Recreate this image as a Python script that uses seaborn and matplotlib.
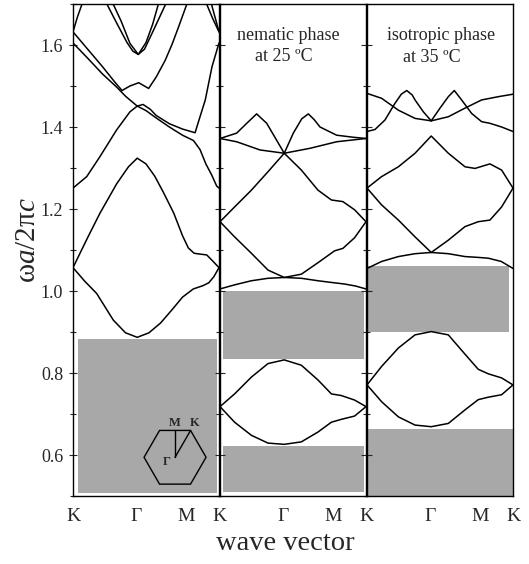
import numpy as np
import pandas as pd
import seaborn as sns
import matplotlib.pyplot as plt
from matplotlib.patches import RegularPolygon
from matplotlib.ticker import MultipleLocator
from matplotlib.transforms import ScaledTranslation

# k-path positions (K, Gamma, M, K) as fraction of panel width
kpath_pos = [0.0, 0.435, 0.775, 1.0]
kpath_lab = ["K", "\u0393", "M", "K"]

# ---------- panel 1: hexagonal lattice, empty ----------
p1_b1_x = [0, 0.08, 0.162, 0.276, 0.36, 0.44, 0.52, 0.60, 0.68, 0.75, 0.824, 0.89, 0.93, 0.965, 1.0]
p1_b1_y = [1.057, 1.024, 0.994, 0.929, 0.898, 0.887, 0.898, 0.922, 0.955, 0.985, 1.005, 1.013, 1.02, 1.035, 1.057]
p1_b2_x = [0, 0.10, 0.185, 0.30, 0.38, 0.44, 0.50, 0.56, 0.62, 0.69, 0.75, 0.79, 0.83, 0.87, 0.916, 0.96, 1.0]
p1_b2_y = [1.057, 1.13, 1.19, 1.262, 1.303, 1.324, 1.31, 1.28, 1.24, 1.19, 1.135, 1.105, 1.092, 1.09, 1.088, 1.072, 1.057]
p1_b3_x = [0, 0.094, 0.185, 0.299, 0.39, 0.44, 0.50, 0.57, 0.66, 0.75, 0.825, 0.87, 0.91, 0.95, 0.984, 1.0]
p1_b3_y = [1.251, 1.279, 1.328, 1.393, 1.437, 1.451, 1.44, 1.422, 1.40, 1.38, 1.367, 1.345, 1.31, 1.283, 1.256, 1.251]
p1_b4_x = [0, 0.10, 0.20, 0.30, 0.36, 0.44, 0.48, 0.53, 0.57, 0.66, 0.75, 0.836, 0.87, 0.906, 0.952, 1.0]
p1_b4_y = [1.605, 1.568, 1.53, 1.497, 1.475, 1.451, 1.455, 1.443, 1.428, 1.408, 1.395, 1.386, 1.425, 1.466, 1.547, 1.605]
p1_b5_x = [0, 0.10, 0.20, 0.29, 0.336, 0.39, 0.45, 0.518, 0.57, 0.632, 0.68, 0.724, 0.78]
p1_b5_y = [1.632, 1.59, 1.548, 1.508, 1.489, 1.50, 1.508, 1.494, 1.522, 1.563, 1.603, 1.645, 1.70]
p1_b6_x = [0, 0.03, 0.062]
p1_b6_y = [1.632, 1.668, 1.70]
p1_b7_x = [0.915, 0.96, 1.0]
p1_b7_y = [1.70, 1.662, 1.632]
p1_b8_x = [0.948, 0.975, 1.0]
p1_b8_y = [1.70, 1.665, 1.632]
p1_v1_x = [0.232, 0.30, 0.37, 0.41, 0.447, 0.49, 0.55, 0.635]
p1_v1_y = [1.70, 1.653, 1.606, 1.585, 1.577, 1.59, 1.635, 1.70]
p1_v2_x = [0.275, 0.33, 0.39, 0.447, 0.50, 0.545, 0.585]
p1_v2_y = [1.70, 1.658, 1.604, 1.577, 1.606, 1.65, 1.70]
p1_gaps = [(0.507, 0.883, 0.034, 0.984)]

# ---------- panel 2: nematic phase at 25 C ----------
p2_lo_x = [0, 0.10, 0.215, 0.329, 0.44, 0.557, 0.671, 0.763, 0.831, 0.922, 1.0]
p2_lo_y = [0.718, 0.68, 0.648, 0.629, 0.626, 0.632, 0.656, 0.68, 0.687, 0.695, 0.718]
p2_up_x = [0, 0.10, 0.215, 0.329, 0.44, 0.557, 0.671, 0.763, 0.831, 0.922, 1.0]
p2_up_y = [0.718, 0.749, 0.79, 0.823, 0.832, 0.819, 0.783, 0.749, 0.745, 0.734, 0.718]
p2_b3_x = [0, 0.10, 0.215, 0.329, 0.44, 0.557, 0.671, 0.76, 0.854, 0.93, 1.0]
p2_b3_y = [1.005, 1.015, 1.025, 1.031, 1.033, 1.031, 1.025, 1.021, 1.017, 1.012, 1.005]
p2_b4_x = [0, 0.10, 0.215, 0.329, 0.44, 0.557, 0.671, 0.785, 0.842, 0.922, 1.0]
p2_b4_y = [1.169, 1.132, 1.092, 1.051, 1.033, 1.041, 1.069, 1.098, 1.104, 1.13, 1.169]
p2_l1_x = [0, 0.10, 0.215, 0.329, 0.44, 0.502, 0.56, 0.605, 0.645, 0.685, 0.799, 0.913, 1.0]
p2_l1_y = [1.169, 1.205, 1.246, 1.291, 1.336, 1.385, 1.42, 1.432, 1.418, 1.40, 1.38, 1.375, 1.372]
p2_l2_x = [0, 0.114, 0.183, 0.251, 0.32, 0.44, 0.557, 0.671, 0.763, 0.842, 0.922, 1.0]
p2_l2_y = [1.372, 1.385, 1.409, 1.432, 1.409, 1.336, 1.295, 1.246, 1.222, 1.218, 1.198, 1.169]
p2_l3_x = [0, 0.114, 0.274, 0.44, 0.616, 0.799, 1.0]
p2_l3_y = [1.372, 1.364, 1.344, 1.336, 1.348, 1.364, 1.372]
p2_gaps = [(0.51, 0.621, 0.02, 0.986), (0.833, 1.0, 0.02, 0.986)]

# ---------- panel 3: isotropic phase at 35 C ----------
p3_lo_x = [0, 0.10, 0.215, 0.329, 0.44, 0.557, 0.671, 0.762, 0.831, 0.922, 1.0]
p3_lo_y = [0.771, 0.73, 0.693, 0.673, 0.669, 0.677, 0.71, 0.735, 0.741, 0.747, 0.771]
p3_up_x = [0, 0.10, 0.215, 0.329, 0.44, 0.557, 0.671, 0.762, 0.831, 0.922, 1.0]
p3_up_y = [0.771, 0.816, 0.861, 0.893, 0.901, 0.893, 0.846, 0.809, 0.798, 0.788, 0.771]
p3_b3_x = [0, 0.10, 0.215, 0.329, 0.44, 0.557, 0.671, 0.76, 0.831, 0.92, 1.0]
p3_b3_y = [1.055, 1.072, 1.084, 1.091, 1.094, 1.091, 1.084, 1.082, 1.08, 1.072, 1.055]
p3_b4_x = [0, 0.10, 0.215, 0.329, 0.44, 0.557, 0.671, 0.762, 0.842, 0.922, 1.0]
p3_b4_y = [1.251, 1.21, 1.173, 1.132, 1.094, 1.124, 1.157, 1.169, 1.173, 1.205, 1.251]
p3_b5_x = [0, 0.10, 0.215, 0.329, 0.44, 0.557, 0.671, 0.74, 0.842, 0.922, 1.0]
p3_b5_y = [1.251, 1.279, 1.303, 1.336, 1.378, 1.336, 1.303, 1.299, 1.31, 1.295, 1.251]
p3_la_x = [0, 0.055, 0.123, 0.192, 0.235, 0.272, 0.31, 0.329, 0.386, 0.44]
p3_la_y = [1.389, 1.394, 1.417, 1.458, 1.48, 1.489, 1.478, 1.466, 1.437, 1.415]
p3_lb_x = [0.44, 0.50, 0.557, 0.598, 0.648, 0.717, 0.785, 0.842, 0.922, 1.0]
p3_lb_y = [1.415, 1.446, 1.474, 1.489, 1.466, 1.433, 1.413, 1.409, 1.40, 1.389]
p3_lc_x = [0, 0.10, 0.215, 0.329, 0.44, 0.557, 0.671, 0.785, 0.90, 1.0]
p3_lc_y = [1.482, 1.47, 1.441, 1.421, 1.415, 1.425, 1.446, 1.466, 1.474, 1.48]
p3_gaps = [(0.50, 0.663, 0.0, 1.0), (0.901, 1.06, 0.005, 0.973)]

GAP = "#a8a8a8"
W, H = 529, 564

sns.set_style("ticks")
plt.rcParams["font.family"] = ["Liberation Serif", "DejaVu Serif"]
plt.rcParams["mathtext.fontset"] = "custom"
plt.rcParams["mathtext.rm"] = "Liberation Serif"
plt.rcParams["mathtext.it"] = "Liberation Serif:italic"

fig = plt.figure(figsize=(W / 100, H / 100), dpi=100)


def panel(left_px, bands, gaps):
    ax = fig.add_axes([left_px / W, 68 / H, 146 / W, 492 / H])
    for lo, hi, x0, x1 in gaps:
        ax.axhspan(lo, hi, x0, x1, color=GAP, lw=0, zorder=0)
    for bx, by in bands:
        df = pd.DataFrame({"k": bx, "w": by})
        sns.lineplot(data=df, x="k", y="w", ax=ax, sort=False, estimator=None,
                     color="black", lw=1.1)
    ax.set_xlim(0, 1)
    ax.set_ylim(0.5, 1.7)
    ax.set_xticks(kpath_pos)
    ax.set_yticks([0.6, 0.8, 1.0, 1.2, 1.4, 1.6])
    ax.yaxis.set_minor_locator(MultipleLocator(0.1))
    ax.set_xlabel("")
    ax.set_ylabel("")
    ax.tick_params(axis="x", length=0, pad=8.5, labelsize=14)
    for s in ax.spines.values():
        s.set_linewidth(1.0)
        s.set_color("black")
    return ax


ax1 = panel(73, [(p1_b1_x, p1_b1_y), (p1_b2_x, p1_b2_y), (p1_b3_x, p1_b3_y),
                 (p1_b4_x, p1_b4_y), (p1_b5_x, p1_b5_y), (p1_b6_x, p1_b6_y),
                 (p1_b7_x, p1_b7_y), (p1_b8_x, p1_b8_y), (p1_v1_x, p1_v1_y),
                 (p1_v2_x, p1_v2_y)], p1_gaps)
ax2 = panel(220, [(p2_lo_x, p2_lo_y), (p2_up_x, p2_up_y), (p2_b3_x, p2_b3_y),
                  (p2_b4_x, p2_b4_y), (p2_l1_x, p2_l1_y), (p2_l2_x, p2_l2_y),
                  (p2_l3_x, p2_l3_y)], p2_gaps)
ax3 = panel(367, [(p3_lo_x, p3_lo_y), (p3_up_x, p3_up_y), (p3_b3_x, p3_b3_y),
                  (p3_b4_x, p3_b4_y), (p3_b5_x, p3_b5_y), (p3_la_x, p3_la_y),
                  (p3_lb_x, p3_lb_y), (p3_lc_x, p3_lc_y)], p3_gaps)

ax1.set_xticklabels(kpath_lab)
ax2.set_xticklabels([""] + kpath_lab[1:])
ax3.set_xticklabels([""] + kpath_lab[1:])

ax1.tick_params(axis="y", which="both", direction="inout", left=True, right=True,
                labelsize=13, pad=4)
ax1.tick_params(axis="y", which="major", length=6, width=0.8)
ax1.tick_params(axis="y", which="minor", length=4.5, width=0.8)
ax2.tick_params(axis="y", which="both", direction="in", left=True, right=True,
                labelleft=False)
ax2.tick_params(axis="y", which="major", length=3.5, width=0.8)
ax2.tick_params(axis="y", which="minor", length=2.5, width=0.8)
ax3.tick_params(axis="y", which="both", direction="in", left=True, right=False,
                labelleft=False)
ax3.tick_params(axis="y", which="major", length=3.5, width=0.8)
ax3.tick_params(axis="y", which="minor", length=2.5, width=0.8)

ax2.text(0.466, 1.623, "nematic phase", ha="center", va="center", fontsize=13)
ax2.text(0.435, 1.571, "at 25 \u00baC", ha="center", va="center", fontsize=13)
ax3.text(0.506, 1.624, "isotropic phase", ha="center", va="center", fontsize=13)
ax3.text(0.443, 1.570, "at 35 \u00baC", ha="center", va="center", fontsize=13)

# Brillouin zone inset
tr = fig.dpi_scale_trans + ScaledTranslation(0.699, 0.0787, ax1.transAxes)
ax1.add_patch(RegularPolygon((0, 0), 6, radius=0.31, orientation=np.pi / 6,
                             fill=False, ec="black", lw=1.0, transform=tr))
ax1.plot([0, 0], [0, 0.268], color="black", lw=1.0, transform=tr)
ax1.plot([0, 0.155], [0, 0.268], color="black", lw=1.0, transform=tr)
ax1.text(0, 0.34, "M", transform=tr, ha="center", va="center", fontsize=9, fontweight="bold")
ax1.text(0.20, 0.34, "K", transform=tr, ha="center", va="center", fontsize=9, fontweight="bold")
ax1.text(-0.085, -0.045, "\u0393", transform=tr, ha="center", va="center", fontsize=9,
         fontweight="bold")

fig.text(0.053, 0.574, r"$\mathrm{\omega}a/\mathrm{2\pi}c$", rotation=90,
         ha="center", va="center", fontsize=21)
fig.text(0.539, 0.037, "wave vector", ha="center", va="center", fontsize=20.5)

fig.savefig("out.png", dpi=100)
